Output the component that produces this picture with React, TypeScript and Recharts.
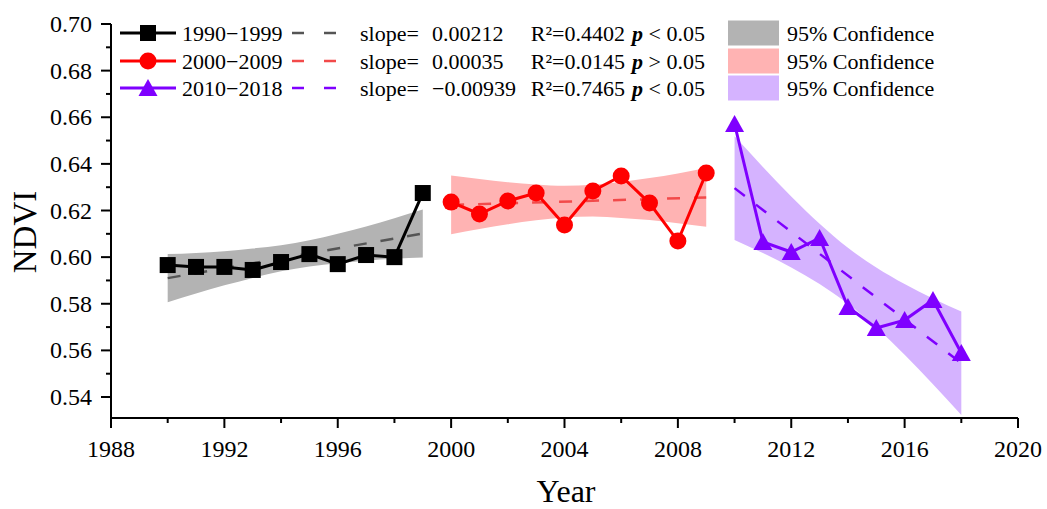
import React from 'react'
import { ComposedChart, Line, Area, XAxis, YAxis } from 'recharts'

// values
const years90 = [1990, 1991, 1992, 1993, 1994, 1995, 1996, 1997, 1998, 1999]
const ndvi90 = [0.5966, 0.5958, 0.5958, 0.5945, 0.5979, 0.6013, 0.597, 0.6009, 0.6, 0.6275]
const low90 = [0.5807, 0.5844, 0.5879, 0.5911, 0.5939, 0.596, 0.5974, 0.5985, 0.5993, 0.5998]
const high90 = [0.6013, 0.6018, 0.6025, 0.6037, 0.6051, 0.6072, 0.61, 0.6131, 0.6167, 0.6204]
const fit90 = [0.591, 0.6101]

const years00 = [2000, 2001, 2002, 2003, 2004, 2005, 2006, 2007, 2008, 2009]
const ndvi00 = [0.6236, 0.6185, 0.6241, 0.6275, 0.6138, 0.6284, 0.6348, 0.6232, 0.6069, 0.6361]
const low00 = [0.6098, 0.6121, 0.6141, 0.6158, 0.617, 0.6174, 0.6168, 0.6159, 0.6145, 0.613]
const high00 = [0.635, 0.6335, 0.6321, 0.6312, 0.6306, 0.631, 0.6322, 0.6339, 0.6359, 0.6382]
const fit00 = [0.6224, 0.6256]

const years10 = [2010, 2011, 2012, 2013, 2014, 2015, 2016, 2017, 2018]
const ndvi10 = [0.6571, 0.6065, 0.6022, 0.6082, 0.5786, 0.5696, 0.573, 0.5816, 0.5589]
const low10 = [0.6074, 0.6018, 0.5956, 0.5885, 0.58, 0.5698, 0.5581, 0.5455, 0.5323]
const high10 = [0.6518, 0.6387, 0.626, 0.6143, 0.604, 0.5956, 0.5885, 0.5823, 0.5767]
const fit10 = [0.6296, 0.5545]

const xTicks = [1988, 1990, 1992, 1994, 1996, 1998, 2000, 2002, 2004, 2006, 2008, 2010, 2012, 2014, 2016, 2018, 2020]
const yTicks = [0.54, 0.55, 0.56, 0.57, 0.58, 0.59, 0.6, 0.61, 0.62, 0.63, 0.64, 0.65, 0.66, 0.67, 0.68, 0.69, 0.7]

const periods = ['1990\u22121999', '2000\u22122009', '2010\u22122018']
const slopes = ['0.00212', '0.00035', '\u22120.00939']
const r2s = ['R\u00b2=0.4402', 'R\u00b2=0.0145', 'R\u00b2=0.7465']
const pSigns = ['< 0.05', '> 0.05', '< 0.05']

const FONT = '"Liberation Serif", "Times New Roman", serif'

const build = (years: number[], ndvi: number[], low: number[], high: number[]) =>
  years.map((year, i) => ({ year, ndvi: ndvi[i], band: [low[i], high[i]] }))

const fitLine = (years: number[], fit: number[]) => [
  { year: years[0], fit: fit[0] },
  { year: years[years.length - 1], fit: fit[1] },
]

const data90 = build(years90, ndvi90, low90, high90)
const data00 = build(years00, ndvi00, low00, high00)
const data10 = build(years10, ndvi10, low10, high10)

const series = [
  { color: '#000000', dash: '#555555', band: '#b3b3b3', shape: 'square' },
  { color: '#ff0000', dash: '#f24a4a', band: '#ffb3b3', shape: 'circle' },
  { color: '#7f00ff', dash: '#7f00ff', band: '#d5b3ff', shape: 'triangle' },
]

function Marker({ cx, cy, shape, color }: { cx: number; cy: number; shape: string; color: string }) {
  if (shape === 'square') return <rect x={cx - 8} y={cy - 8} width={16} height={16} fill={color} />
  if (shape === 'circle') return <circle cx={cx} cy={cy} r={8.5} fill={color} />
  return <polygon points={`${cx},${cy - 9} ${cx - 9.5},${cy + 8} ${cx + 9.5},${cy + 8}`} fill={color} />
}

const dotFor = (shape: string, color: string) => (p: any) => (
  <Marker key={`${shape}-${p.index}`} cx={p.cx} cy={p.cy} shape={shape} color={color} />
)

const XTick = (props: any) => {
  const { x, y, payload } = props
  const major = (payload.value - 1988) % 4 === 0
  return (
    <g>
      <line x1={x} x2={x} y1={y} y2={y + (major ? 10 : 5)} stroke="#000" strokeWidth={2} />
      {major && (
        <text x={x} y={y + 39} textAnchor="middle" fontSize={24} fontFamily={FONT} fill="#000">
          {payload.value}
        </text>
      )}
    </g>
  )
}

const YTick = (props: any) => {
  const { x, y, payload } = props
  const major = Math.round(payload.value * 100) % 2 === 0
  return (
    <g>
      <line x1={x - (major ? 10 : 5)} x2={x} y1={y} y2={y} stroke="#000" strokeWidth={2} />
      {major && (
        <text x={x - 19} y={y} textAnchor="end" dominantBaseline="central" fontSize={24} fontFamily={FONT} fill="#000">
          {payload.value.toFixed(2)}
        </text>
      )}
    </g>
  )
}

function Overlay() {
  const rows = [33, 61, 88]
  return (
    <svg width={1047} height={509} style={{ position: 'absolute', left: 0, top: 0, pointerEvents: 'none' }}>
      <text x={25} y={232} transform="rotate(-90 25 232)" textAnchor="middle" dominantBaseline="central" fontSize={33} fontFamily={FONT}>
        NDVI
      </text>
      <text x={566} y={502} textAnchor="middle" fontSize={32} fontFamily={FONT}>
        Year
      </text>
      {series.map((s, i) => {
        const y = rows[i]
        return (
          <g key={i} fontFamily={FONT} fontSize={22} fill="#000">
            <line x1={120} x2={176} y1={y} y2={y} stroke={s.color} strokeWidth={3} />
            <Marker cx={148} cy={y} shape={s.shape} color={s.color} />
            <text x={182} y={y} dominantBaseline="central">{periods[i]}</text>
            <line x1={292} x2={337} y1={y} y2={y} stroke={s.dash} strokeWidth={2.5} strokeDasharray="12 20" />
            <text x={360} y={y} dominantBaseline="central">slope=</text>
            <text x={432} y={y} dominantBaseline="central">{slopes[i]}</text>
            <text x={625} y={y} textAnchor="end" dominantBaseline="central">{r2s[i]}</text>
            <text x={632} y={y} dominantBaseline="central">
              <tspan fontWeight="bold" fontStyle="italic">p</tspan>
              <tspan> {pSigns[i]}</tspan>
            </text>
            <rect x={728} y={y - 12.5} width={51} height={25} fill={s.band} />
            <text x={787} y={y} dominantBaseline="central">95% Confidence</text>
          </g>
        )
      })}
    </svg>
  )
}

export default function App() {
  const groups = [
    { data: data90, fit: fitLine(years90, fit90) },
    { data: data00, fit: fitLine(years00, fit00) },
    { data: data10, fit: fitLine(years10, fit10) },
  ]
  return (
    <div style={{ position: 'absolute', left: 0, top: 0, width: 1047, height: 509, background: '#fff' }}>
      <ComposedChart width={1047} height={509} margin={{ top: 24, right: 29, bottom: 0, left: 0 }}>
        <XAxis
          type="number"
          dataKey="year"
          domain={[1988, 2020]}
          ticks={xTicks}
          interval={0}
          tickSize={0}
          tickMargin={0}
          tick={<XTick />}
          height={91}
          axisLine={{ stroke: '#000', strokeWidth: 2 }}
          allowDataOverflow
        />
        <YAxis
          type="number"
          domain={[0.531, 0.7]}
          ticks={yTicks}
          interval={0}
          tickSize={0}
          tickMargin={0}
          tick={<YTick />}
          width={111}
          axisLine={{ stroke: '#000', strokeWidth: 2 }}
          allowDataOverflow
        />
        {groups.map((g, i) => (
          <Area
            key={`band${i}`}
            data={g.data}
            dataKey="band"
            type="monotone"
            stroke="none"
            fill={series[i].band}
            fillOpacity={1}
            isAnimationActive={false}
            activeDot={false}
          />
        ))}
        {groups.map((g, i) => (
          <Line
            key={`fit${i}`}
            data={g.fit}
            dataKey="fit"
            stroke={series[i].dash}
            strokeWidth={2.5}
            strokeDasharray="13 14"
            dot={false}
            activeDot={false}
            isAnimationActive={false}
          />
        ))}
        {groups.map((g, i) => (
          <Line
            key={`ndvi${i}`}
            data={g.data}
            dataKey="ndvi"
            type="linear"
            stroke={series[i].color}
            strokeWidth={3}
            dot={dotFor(series[i].shape, series[i].color)}
            activeDot={false}
            isAnimationActive={false}
          />
        ))}
      </ComposedChart>
      <Overlay />
    </div>
  )
}
